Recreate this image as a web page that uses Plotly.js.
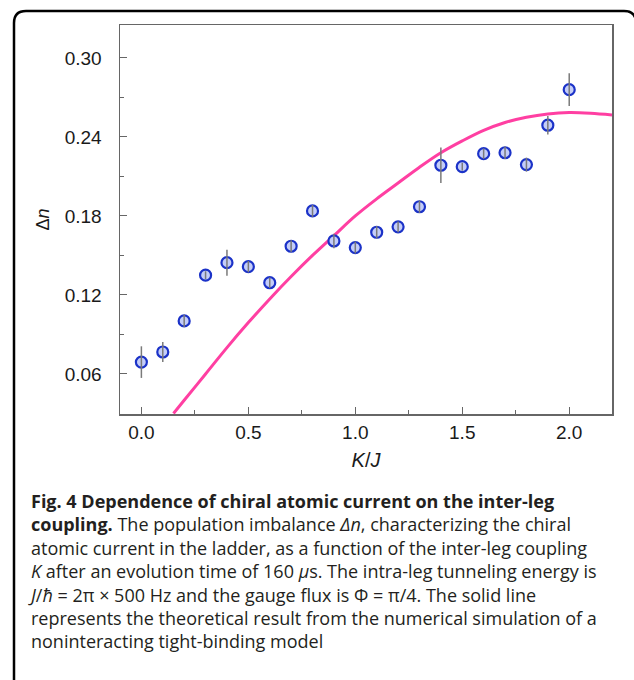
<!DOCTYPE html>
<html>
<head>
<meta charset="utf-8">
<script src="https://cdn.plot.ly/plotly-3.0.1.min.js"></script>
<style>
  html, body { margin: 0; padding: 0; background: #fff; }
  #chart { width: 634px; height: 680px; }
</style>
</head>
<body>
<div id="chart"></div>
<script>
// ---- data ----
var kOverJ = [0.0, 0.1, 0.2, 0.3, 0.4, 0.5, 0.6, 0.7, 0.8, 0.9, 1.0, 1.1, 1.2, 1.3, 1.4, 1.5, 1.6, 1.7, 1.8, 1.9, 2.0];
var deltaN = [0.069, 0.0767, 0.1003, 0.135, 0.1445, 0.1415, 0.1293, 0.157, 0.1838, 0.161, 0.156, 0.1676, 0.1717, 0.187, 0.2185, 0.2174, 0.2273, 0.228, 0.219, 0.2489, 0.2759];
var deltaNErr = [0.012, 0.0076, 0.0046, 0.003, 0.0099, 0.0043, 0.004, 0.0045, 0.0045, 0.0055, 0.0045, 0.0047, 0.004, 0.0047, 0.0134, 0.003, 0.004, 0.0047, 0.0053, 0.007, 0.0124];

var theoryK = [0.15, 0.2, 0.3, 0.4, 0.5, 0.6, 0.7, 0.8, 0.9, 1.0, 1.1, 1.2, 1.3, 1.4, 1.5, 1.6, 1.7, 1.8, 1.9, 2.0, 2.1, 2.2];
var theoryN = [0.030, 0.040, 0.060, 0.080, 0.099, 0.117, 0.134, 0.150, 0.165, 0.180, 0.193, 0.205, 0.217, 0.228, 0.237, 0.245, 0.251, 0.255, 0.2575, 0.2585, 0.258, 0.2567];

var xTickVals = [0.0, 0.5, 1.0, 1.5, 2.0];
var xTickText = ['0.0', '0.5', '1.0', '1.5', '2.0'];
var yTickVals = [0.06, 0.12, 0.18, 0.24, 0.30];
var yTickText = ['0.06', '0.12', '0.18', '0.24', '0.30'];

var captionLines = [
  '<b>Fig. 4 Dependence of chiral atomic current on the inter-leg</b>',
  '<b>coupling.</b> The population imbalance <i>Δn</i>, characterizing the chiral',
  'atomic current in the ladder, as a function of the inter-leg coupling',
  '<i>K</i> after an evolution time of 160 <i>μ</i>s. The intra-leg tunneling energy is',
  '<i>J</i>/<i>ħ</i> = 2π × 500 Hz and the gauge flux is Φ = π/4. The solid line',
  'represents the theoretical result from the numerical simulation of a',
  'noninteracting tight-binding model'
];

// ---- layout geometry (pixels) ----
var W = 634, H = 680;
var M = {l: 120, r: 22, t: 25, b: 266};
var PW = W - M.l - M.r, PH = H - M.t - M.b;
function px(x) { return (x - M.l) / PW; }
function py(y) { return (H - M.b - y) / PH; }

var annotations = [{
  text: captionLines.join('<br>'), xref: 'paper', yref: 'paper',
  x: px(26), y: py(570.5), xanchor: 'left', yanchor: 'middle',
  showarrow: false, align: 'left',
  font: {family: '"Open Sans", "Noto Sans", sans-serif', size: 18, color: '#231f20'}
}];

var borderPath = 'M ' + px(14) + ' ' + py(700) +
  ' L ' + px(14) + ' ' + py(23) +
  ' Q ' + px(14) + ' ' + py(11) + ' ' + px(26) + ' ' + py(11) +
  ' L ' + px(624) + ' ' + py(11) +
  ' Q ' + px(636) + ' ' + py(11) + ' ' + px(636) + ' ' + py(23) +
  ' L ' + px(636) + ' ' + py(700);

var traces = [
  {
    x: theoryK, y: theoryN, type: 'scatter', mode: 'lines',
    line: {color: '#ff3fa2', width: 3, shape: 'spline', smoothing: 1},
    hoverinfo: 'skip', showlegend: false, cliponaxis: true
  },
  {
    x: kOverJ, y: deltaN, type: 'scatter', mode: 'markers',
    marker: {size: 11, color: '#c4cdf8', line: {color: '#1b32c8', width: 2.2}},
    showlegend: false, cliponaxis: false
  },
  {
    x: kOverJ, y: deltaN, type: 'scatter', mode: 'markers',
    marker: {size: 1, color: 'rgba(0,0,0,0)'},
    error_y: {type: 'data', array: deltaNErr, visible: true, color: '#7a7a7a', thickness: 1.5, width: 0},
    showlegend: false, hoverinfo: 'skip', cliponaxis: false
  }
];

var axisFont = {family: '"Liberation Sans", Arial, sans-serif', size: 19, color: '#1a1a1a'};

var layout = {
  width: W, height: H,
  margin: M,
  paper_bgcolor: '#fff', plot_bgcolor: '#fff',
  showlegend: false,
  xaxis: {
    range: [-0.1, 2.2], autorange: false,
    tickvals: xTickVals, ticktext: xTickText,
    ticks: 'inside', ticklen: 7, tickwidth: 1, tickcolor: '#666',
    minor: {dtick: 0.25, tick0: 0, ticks: 'inside', ticklen: 4, tickwidth: 1, tickcolor: '#666'},
    showline: true, linecolor: '#666', linewidth: 1.5, mirror: true,
    showgrid: false, zeroline: false,
    tickfont: axisFont, ticklabelstandoff: 1,
    title: {text: '<i>K</i>/<i>J</i>', font: {family: '"Liberation Sans", Arial, sans-serif', size: 20, color: '#1a1a1a'}, standoff: 10}
  },
  yaxis: {
    range: [0.0296, 0.325], autorange: false,
    tickvals: yTickVals, ticktext: yTickText,
    ticks: 'inside', ticklen: 7, tickwidth: 1, tickcolor: '#666',
    minor: {dtick: 0.03, tick0: 0, ticks: 'inside', ticklen: 4, tickwidth: 1, tickcolor: '#666'},
    showline: true, linecolor: '#666', linewidth: 1.5, mirror: true,
    showgrid: false, zeroline: false,
    tickfont: axisFont, ticklabelstandoff: 13,
    title: {text: 'Δ<i>n</i>', font: {family: '"Liberation Sans", Arial, sans-serif', size: 18, color: '#1a1a1a'}, standoff: 10}
  },
  shapes: [
    {type: 'path', xref: 'paper', yref: 'paper', path: borderPath, line: {color: '#000', width: 2.5}}
  ],
  annotations: annotations
};

Plotly.newPlot('chart', traces, layout, {displayModeBar: false, staticPlot: true});
</script>
</body>
</html>
